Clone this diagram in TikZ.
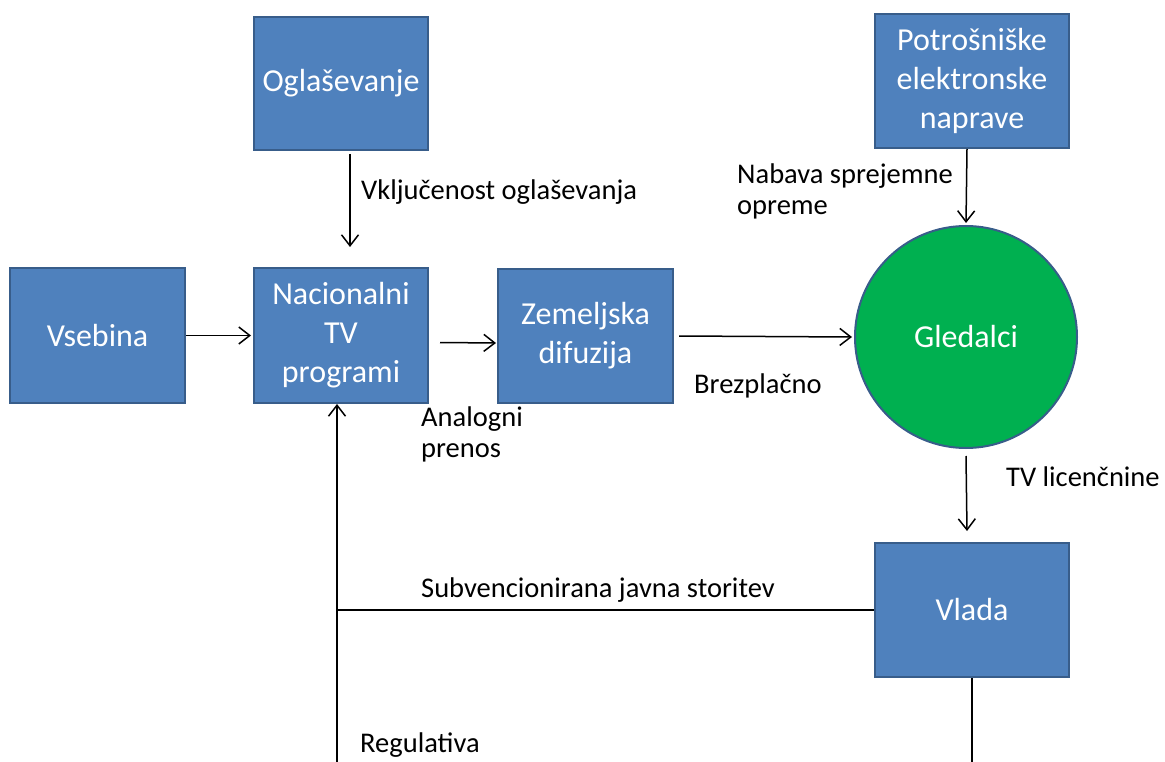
\documentclass[tikz,border=0pt]{standalone}
\usepackage{fontspec}
\setmainfont{Carlito}
\usetikzlibrary{arrows.meta}
\definecolor{boxfill}{HTML}{4F81BD}
\definecolor{boxline}{HTML}{385D8A}
\definecolor{circfill}{HTML}{00B050}
\tikzset{
  blk/.style={draw=boxline, line width=2pt, fill=boxfill, text=white, inner sep=0pt,
    align=center, font=\fontsize{32}{39}\selectfont},
  circ/.style={circle, draw=boxline, line width=2pt, fill=circfill, text=white, inner sep=0pt,
    minimum size=222pt, font=\fontsize{32}{39}\selectfont},
  lbl/.style={inner sep=0pt, align=left, font=\fontsize{28.5}{31}\selectfont},
  conn/.style={line width=1.5pt, -{Straight Barb[length=11pt,width=17pt,line width=1.5pt]}},
  plain/.style={line width=1.5pt}
}
\begin{document}
\begin{tikzpicture}[x=1pt,y=-1pt]
\useasboundingbox (0,0) rectangle (1165,762);
\node[blk, minimum width=175pt, minimum height=135pt] (vse) at (97.5,335.5) {Vsebina};
\node[blk, minimum width=174pt, minimum height=135pt] (nac) at (341,335.5) {Nacionalni\\TV\\programi};
\node[blk, minimum width=175pt, minimum height=134pt] (zem) at (585.5,336) {Zemeljska\\difuzija};
\node[blk, minimum width=174pt, minimum height=133pt] (ogl) at (341,83.5) {Oglaševanje};
\node[blk, minimum width=194pt, minimum height=134pt] (pot) at (972,81) {Potrošniške\\elektronske\\naprave};
\node[circ] (gle) at (966,337) {Gledalci};
\node[blk, minimum width=194pt, minimum height=134pt] (vla) at (972,610) {Vlada};

\coordinate (corner) at (337,610);
\coordinate (regL) at (337,762);
\coordinate (regR) at (972,762);

\draw[conn] (vse.east) -- ([xshift=-2pt]nac.west);
\draw[conn] ([shift={(11,7)}]nac.east) -- ([shift={(-1,7)}]zem.west);
\draw[conn] ([xshift=5pt]zem.east) -- ([xshift=-2pt]gle.west);
\draw[conn] ([shift={(9,3)}]ogl.south) -- ([shift={(9,-20)}]nac.north);
\draw[conn] ([xshift=-5pt]pot.south) -- ([shift={(0,-2)}]gle.north);
\draw[conn] ([shift={(0,7)}]gle.south) -- ([shift={(-5,-11)}]vla.north);
\draw[conn] (vla.west) -- (corner) -- ([xshift=-4pt]nac.south);
\draw[plain] (regL) -- (corner);
\draw[plain] (vla.south) -- (regR);

\node[lbl, anchor=base west] (l1) at (361,200) {Vključenost oglaševanja};
\node[lbl, anchor=base west] (l2) at (737,184) {Nabava sprejemne};
\node[lbl, anchor=base west] (l2b) at (737,215) {opreme};
\node[lbl, anchor=base west] (l3) at (694,393) {Brezplačno};
\node[lbl, anchor=base west] (l4) at (421,426) {Analogni};
\node[lbl, anchor=base west] (l4b) at (421,457) {prenos};
\node[lbl, anchor=base west] (l5) at (1006,486) {TV licenčnine};
\node[lbl, anchor=base west] (l6) at (421,597) {Subvencionirana javna storitev};
\node[lbl, anchor=base west] (l7) at (360,752) {Regulativa};
\end{tikzpicture}
\end{document}
